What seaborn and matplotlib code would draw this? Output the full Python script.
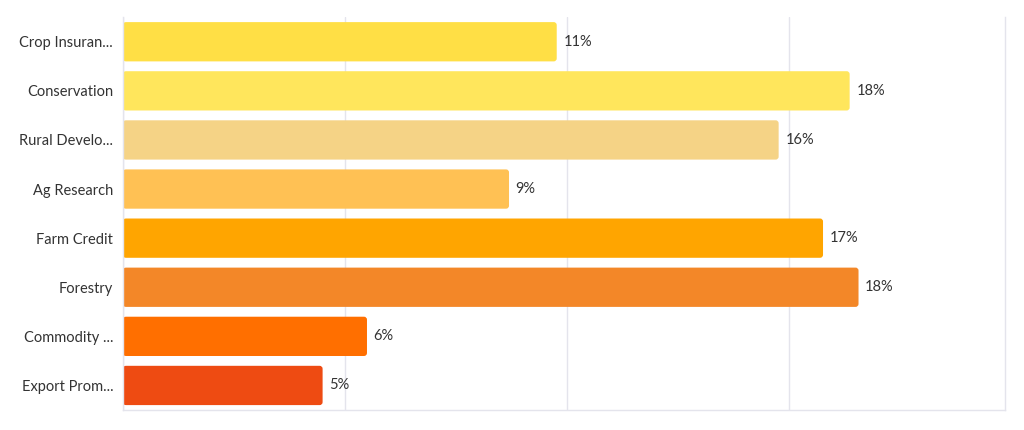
import pandas as pd
import numpy as np
import seaborn as sns
import matplotlib
matplotlib.use('Agg')
import matplotlib.pyplot as plt
from matplotlib.patches import FancyBboxPatch

# datos
categorias = ["Crop Insuran...", "Conservation", "Rural Develo...", "Ag Research",
              "Farm Credit", "Forestry", "Commodity ...", "Export Prom..."]
valores = [39.1, 65.5, 59.1, 34.8, 63.1, 66.3, 22.0, 18.0]
colores = ["#FFDF45", "#FFE65C", "#F5D386", "#FFC154",
           "#FFA500", "#F38728", "#FF6F00", "#EE4B12"]

df = pd.DataFrame({"categoria": categorias, "valor": valores})
total = df["valor"].sum()
df["pct"] = df["valor"] / total * 100

sns.set_theme(style="white")
plt.rcParams['font.family'] = ['Lato', 'DejaVu Sans']

fig = plt.figure(figsize=(10.24, 4.3), dpi=100)
ax = fig.add_axes([0.120, 0.0465, 0.861, 0.9135])

sns.barplot(data=df, x="valor", y="categoria", hue="categoria", palette=colores,
            legend=False, width=0.8, ax=ax, saturation=1)

xmax = 79.46
# redondear esquinas de las barras
px_x = 882 / xmax
px_y = 393 / 8.0
for p in list(ax.patches):
    x, y = p.get_x(), p.get_y()
    w, h = p.get_width(), p.get_height()
    fb = FancyBboxPatch((x, y), w, h,
                        boxstyle="round,pad=0,rounding_size=%f" % (3 / px_x),
                        mutation_aspect=px_x / px_y,
                        facecolor=p.get_facecolor(), edgecolor="none", zorder=2)
    p.remove()
    ax.add_patch(fb)

for i, (v, pc) in enumerate(zip(df["valor"], df["pct"])):
    ax.text(v + 0.6, i, f"{pc:.0f}%", va="center", ha="left",
            fontsize=10.5, color="#333333")

ax.set_xlim(0, xmax)
ax.set_ylim(7.5, -0.5)
ax.set_xticks([0, 20, 40, 60])
ax.set_xticklabels([])
ax.grid(axis="x", color="#E4E4EC", linewidth=1, zorder=0)
ax.set_axisbelow(True)
ax.set_xlabel("")
ax.set_ylabel("")
ax.tick_params(axis="x", length=0)
ax.tick_params(axis="y", length=5, width=0.8, color="#E0E0E8", labelsize=10.5,
               labelcolor="#333333", pad=2)

for s in ["top"]:
    ax.spines[s].set_visible(False)
for s in ["left", "bottom", "right"]:
    ax.spines[s].set_color("#E4E4EC")
    ax.spines[s].set_linewidth(1)

plt.savefig("out.png", dpi=100)
